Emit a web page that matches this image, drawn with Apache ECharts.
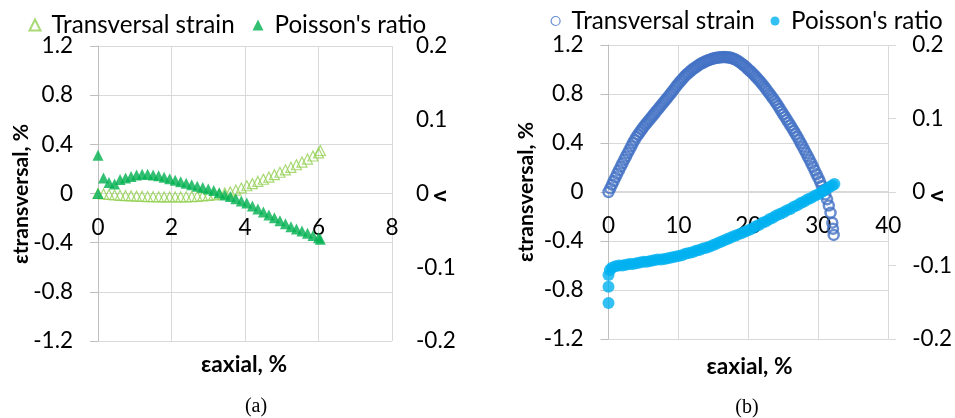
<!DOCTYPE html>
<html>
<head>
<meta charset="utf-8">
<script src="https://cdn.jsdelivr.net/npm/echarts@6/dist/echarts.min.js"></script>
<style>
html,body{margin:0;padding:0;background:#fff;}
#c{width:955px;height:418px;}
</style>
</head>
<body>
<div id="c"></div>
<script>
// ---- Chart (a) ----
const aStrainAxial = [0,0.15,0.3,0.45,0.6,0.75,0.9,1.05,1.2,1.35,1.5,1.65,1.8,1.95,2.1,2.25,2.4,2.55,2.7,2.85,3.0,3.15,3.3,3.45,3.6,3.75,3.9,4.05,4.2,4.35,4.5,4.65,4.8,4.95,5.1,5.25,5.4,5.55,5.7,5.85,6.0,6.05];
const aTransversal = [0,-0.004,-0.008,-0.012,-0.015,-0.018,-0.02,-0.022,-0.024,-0.025,-0.026,-0.027,-0.028,-0.028,-0.028,-0.028,-0.027,-0.025,-0.023,-0.02,-0.016,-0.011,-0.005,0.003,0.013,0.028,0.045,0.063,0.08,0.098,0.116,0.134,0.153,0.173,0.193,0.213,0.234,0.256,0.28,0.305,0.33,0.35];
const aPoissonAxial = [0,0,0.15,0.3,0.45,0.6,0.75,0.9,1.05,1.2,1.35,1.5,1.65,1.8,1.95,2.1,2.25,2.4,2.55,2.7,2.85,3.0,3.15,3.3,3.45,3.6,3.75,3.9,4.05,4.2,4.35,4.5,4.65,4.8,4.95,5.1,5.25,5.4,5.55,5.7,5.85,6.0,6.05];
const aPoisson = [0.052,0,0.021,0.015,0.013,0.019,0.021,0.023,0.025,0.026,0.026,0.025,0.024,0.022,0.02,0.018,0.016,0.014,0.012,0.01,0.008,0.006,0.004,0.001,-0.002,-0.004,-0.007,-0.01,-0.013,-0.017,-0.021,-0.025,-0.029,-0.033,-0.037,-0.041,-0.045,-0.048,-0.051,-0.054,-0.057,-0.06,-0.062];

// ---- Chart (b) ----
const bStrainAxial = [0,0.25,0.5,0.75,1,1.25,1.5,1.75,2,2.25,2.5,2.75,3,3.25,3.5,3.75,4,4.25,4.5,4.75,5,5.25,5.5,5.75,6,6.25,6.5,6.75,7,7.25,7.5,7.75,8,8.25,8.5,8.75,9,9.25,9.5,9.75,10,10.25,10.5,10.75,11,11.25,11.5,11.75,12,12.25,12.5,12.75,13,13.25,13.5,13.75,14,14.25,14.5,14.75,15,15.25,15.5,15.75,16,16.25,16.5,16.75,17,17.25,17.5,17.75,18,18.25,18.5,18.75,19,19.25,19.5,19.75,20,20.25,20.5,20.75,21,21.25,21.5,21.75,22,22.25,22.5,22.75,23,23.25,23.5,23.75,24,24.25,24.5,24.75,25,25.25,25.5,25.75,26,26.25,26.5,26.75,27,27.25,27.5,27.75,28,28.25,28.5,28.75,29,29.25,29.5,29.75,30,30.25,30.5,30.75,31,31.25,31.5,31.75,32,32.1,32.2];
const bTransversal = [0,0.03,0.06,0.09,0.12,0.149,0.178,0.207,0.235,0.263,0.29,0.318,0.345,0.373,0.4,0.425,0.45,0.47,0.49,0.51,0.53,0.548,0.565,0.583,0.6,0.618,0.635,0.653,0.67,0.688,0.705,0.723,0.74,0.758,0.775,0.793,0.81,0.829,0.848,0.867,0.885,0.902,0.918,0.934,0.95,0.963,0.975,0.988,1.0,1.01,1.02,1.03,1.04,1.048,1.055,1.063,1.07,1.075,1.08,1.085,1.09,1.093,1.095,1.098,1.1,1.101,1.102,1.101,1.1,1.098,1.095,1.09,1.085,1.078,1.07,1.06,1.05,1.039,1.027,1.014,1.0,0.988,0.975,0.96,0.945,0.929,0.913,0.897,0.88,0.862,0.843,0.824,0.805,0.786,0.766,0.746,0.725,0.703,0.68,0.658,0.635,0.613,0.59,0.568,0.545,0.522,0.498,0.474,0.45,0.424,0.398,0.372,0.345,0.318,0.29,0.263,0.235,0.205,0.175,0.145,0.115,0.085,0.05,0.015,-0.02,-0.06,-0.11,-0.17,-0.25,-0.3,-0.35];
const bPoissonAxial = [0,0,0,0.2,0.5,1,1.5,2,2.5,3,3.5,4,4.5,5,5.5,6,6.5,7,7.5,8,8.5,9,9.5,10,10.5,11,11.5,12,12.5,13,13.5,14,14.5,15,15.5,16,16.5,17,17.5,18,18.5,19,19.5,20,20.5,21,21.5,22,22.5,23,23.5,24,24.5,25,25.5,26,26.5,27,27.5,28,28.5,29,29.5,30,30.5,31,31.5,32,32.3];
const bPoisson = [-0.151,-0.129,-0.113,-0.106,-0.103,-0.101,-0.1,-0.1,-0.099,-0.098,-0.098,-0.097,-0.096,-0.095,-0.095,-0.094,-0.093,-0.092,-0.092,-0.091,-0.09,-0.089,-0.088,-0.087,-0.086,-0.084,-0.083,-0.082,-0.08,-0.079,-0.077,-0.076,-0.074,-0.072,-0.07,-0.068,-0.066,-0.064,-0.062,-0.06,-0.058,-0.056,-0.054,-0.052,-0.05,-0.047,-0.045,-0.042,-0.04,-0.037,-0.035,-0.032,-0.03,-0.028,-0.025,-0.023,-0.02,-0.018,-0.015,-0.013,-0.01,-0.008,-0.005,-0.003,0,0.003,0.006,0.009,0.011];

// ---- Labels ----
const seriesNames = ["Transversal strain", "Poisson's ratio"];
const yLeftTitle = "εtransversal, %";
const yRightTitle = "ν";
const xTitle = "εaxial, %";
const captions = ["(a)", "(b)"];
const leftTicks = {min: -1.2, max: 1.2, interval: 0.4};
const rightTicks = {min: -0.2, max: 0.2, interval: 0.1};
const aXTicks = {min: 0, max: 8, interval: 2};
const bXTicks = {min: 0, max: 40, interval: 10};

const pairs = (xs, ys) => xs.map((x, i) => [x, ys[i]]);
const FONT = 'Lato, "DejaVu Sans", sans-serif';
const FS = 22.5;
const LFS = 24.2;
const GRID = '#d9d9d9';
const AXIS = '#bfbfbf';
const lbl = (m) => ({fontSize: FS, color: '#000', fontFamily: FONT, margin: m});

function xAxisDef(gi, t, off) {
  return {
    gridIndex: gi, type: 'value', position: 'bottom', offset: off,
    min: t.min, max: t.max, interval: t.interval,
    axisLine: {show: true, onZero: false, lineStyle: {color: GRID}},
    axisTick: {show: false},
    axisLabel: lbl(23),
    splitLine: {show: true, lineStyle: {color: GRID, width: 1}}
  };
}
function yLeft(gi) {
  return {
    gridIndex: gi, type: 'value', position: 'left', ...leftTicks,
    axisLine: {show: true, lineStyle: {color: AXIS}},
    axisTick: {show: true, length: 8, lineStyle: {color: AXIS}},
    axisLabel: lbl(25),
    splitLine: {show: true, lineStyle: {color: GRID, width: 1}}
  };
}
function yRight(gi, ticks) {
  return {
    gridIndex: gi, type: 'value', position: 'right', ...rightTicks,
    axisLine: {show: false},
    axisTick: {show: ticks, length: 8, lineStyle: {color: GRID}},
    axisLabel: lbl(24),
    splitLine: {show: false}
  };
}
const titleFont = 'bold 21.2px ' + FONT;
function legendItem(left, top, size, pad, item) {
  return {
    left: left, top: top, width: 300, orient: 'horizontal', itemWidth: size, itemHeight: size,
    textStyle: {fontSize: LFS, color: '#000', fontFamily: FONT, padding: [0, 0, 0, pad]},
    data: [item]
  };
}

const chart = echarts.init(document.getElementById('c'), null, {renderer: 'canvas'});
chart.setOption({
  animation: false,
  backgroundColor: '#fff',
  textStyle: {fontFamily: FONT},
  grid: [
    {left: 98, top: 46, width: 294, height: 295},
    {left: 608.5, top: 45, width: 281, height: 294}
  ],
  xAxis: [xAxisDef(0, aXTicks, -147.5), xAxisDef(1, bXTicks, -148)],
  yAxis: [yLeft(0), yRight(0, false), yLeft(1), yRight(1, true)],
  legend: [
    legendItem(23.5, 8, 11, 6, {name: seriesNames[0]}),
    legendItem(247.5, 8, 11, 6, {name: seriesNames[1]}),
    legendItem(545.5, 4, 9, 6.5, {name: seriesNames[0] + ' ', itemStyle: {color: '#fff', borderColor: '#4472c4', borderWidth: 1.2}}),
    legendItem(765.5, 4, 9, 6.5, {name: seriesNames[1] + ' '})
  ],
  graphic: [
    {type: 'text', x: 21, y: 194, rotation: Math.PI / 2, style: {text: yLeftTitle, font: titleFont, fill: '#000', align: 'center', verticalAlign: 'middle'}},
    {type: 'text', x: 526, y: 192, rotation: Math.PI / 2, style: {text: yLeftTitle, font: titleFont, fill: '#000', align: 'center', verticalAlign: 'middle'}},
    {type: 'text', x: 441, y: 196, rotation: -Math.PI / 2, style: {text: yRightTitle, font: 'bold 22px ' + FONT, fill: '#000', align: 'center', verticalAlign: 'middle'}},
    {type: 'text', x: 938, y: 196, rotation: -Math.PI / 2, style: {text: yRightTitle, font: 'bold 22px ' + FONT, fill: '#000', align: 'center', verticalAlign: 'middle'}},
    {type: 'text', x: 244, y: 365, style: {text: xTitle, font: 'bold 22.7px ' + FONT, fill: '#000', align: 'center', verticalAlign: 'middle'}},
    {type: 'text', x: 749.5, y: 367, style: {text: xTitle, font: 'bold 22.7px ' + FONT, fill: '#000', align: 'center', verticalAlign: 'middle'}},
    {type: 'text', x: 256, y: 407, style: {text: captions[0], font: '20px "Liberation Serif", serif', fill: '#000', align: 'center', verticalAlign: 'middle'}},
    {type: 'text', x: 747, y: 408, style: {text: captions[1], font: '20px "Liberation Serif", serif', fill: '#000', align: 'center', verticalAlign: 'middle'}}
  ],
  series: [
    {
      name: seriesNames[0], type: 'scatter', xAxisIndex: 0, yAxisIndex: 0,
      symbol: 'triangle', symbolSize: 10,
      itemStyle: {color: 'rgba(255,255,255,0)', borderColor: '#92d050', borderWidth: 1.2},
      data: pairs(aStrainAxial, aTransversal)
    },
    {
      name: seriesNames[1], type: 'scatter', xAxisIndex: 0, yAxisIndex: 1,
      symbol: 'triangle', symbolSize: 11,
      itemStyle: {color: '#00b050'},
      data: pairs(aPoissonAxial, aPoisson)
    },
    {
      name: seriesNames[0] + ' ', type: 'scatter', xAxisIndex: 1, yAxisIndex: 2,
      symbol: 'circle', symbolSize: 10,
      itemStyle: {color: 'rgba(255,255,255,0)', borderColor: '#4472c4', borderWidth: 2.5},
      data: pairs(bStrainAxial, bTransversal)
    },
    {
      name: seriesNames[1] + ' ', type: 'scatter', xAxisIndex: 1, yAxisIndex: 3,
      symbol: 'circle', symbolSize: 12,
      itemStyle: {color: '#00b0f0'},
      data: pairs(bPoissonAxial, bPoisson)
    }
  ]
});
</script>
</body>
</html>
